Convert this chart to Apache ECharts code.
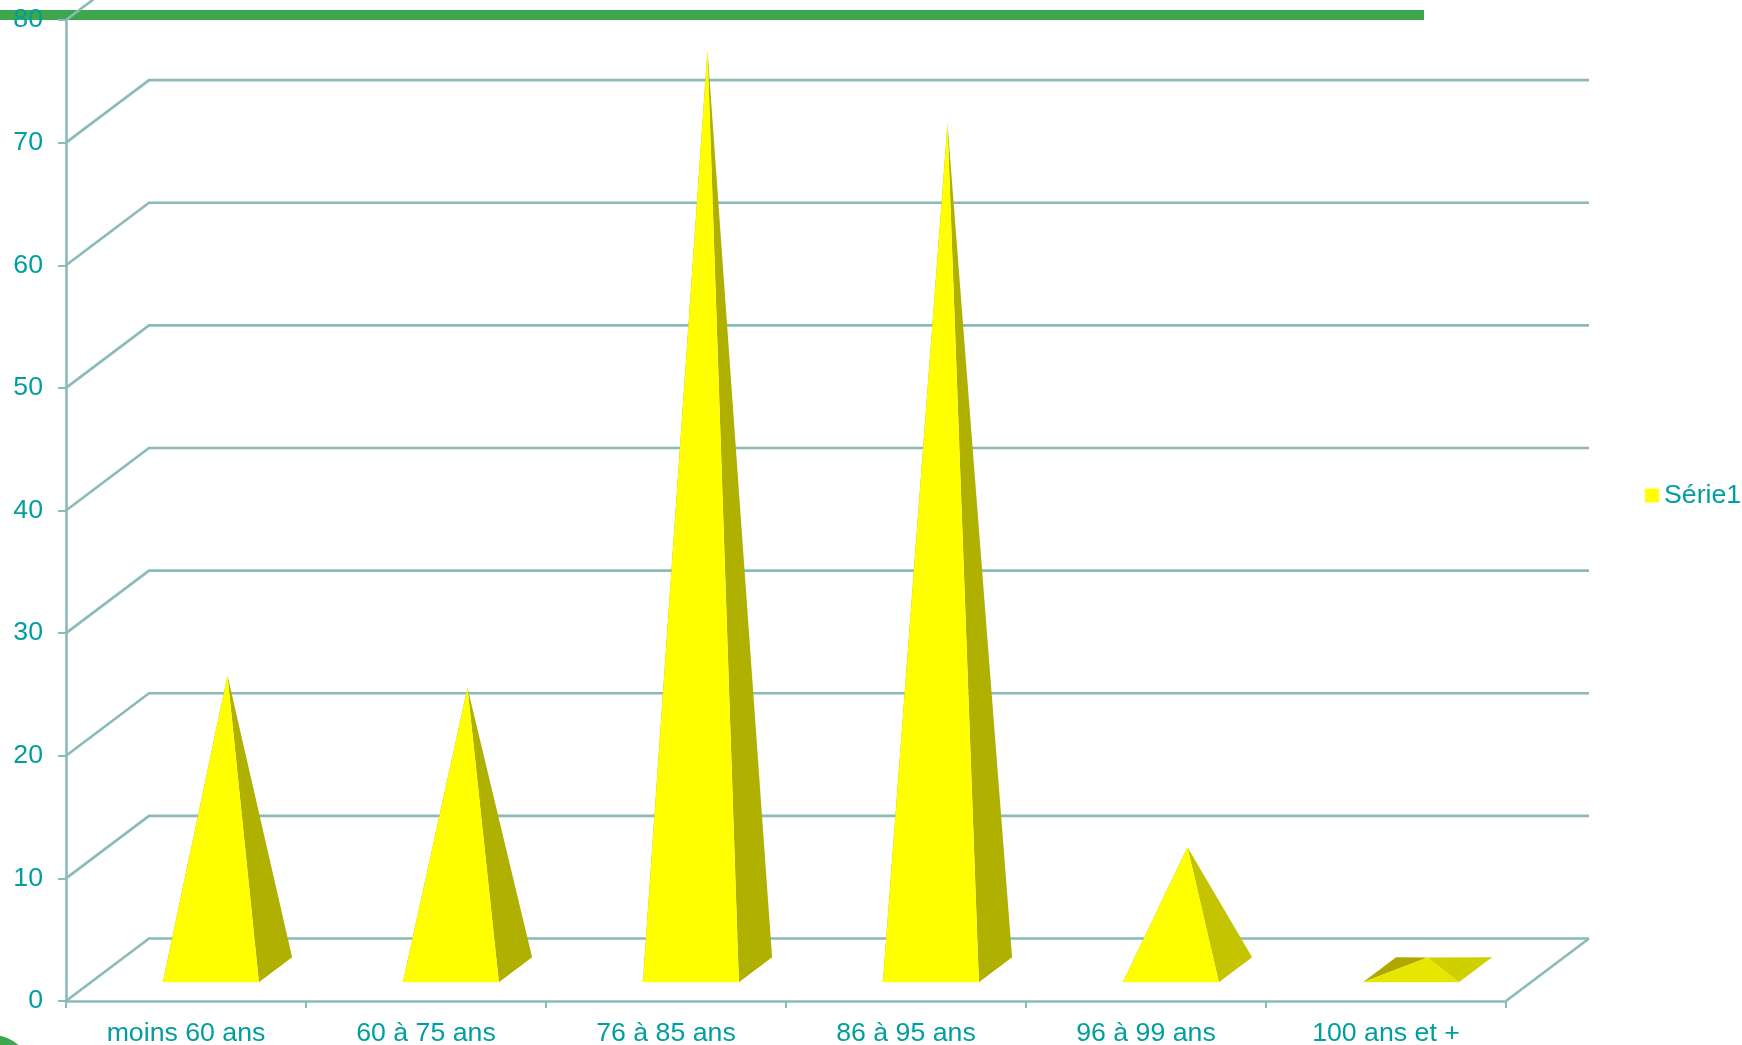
<!DOCTYPE html>
<html>
<head>
<meta charset="utf-8">
<title>Série1</title>
<style>
  html, body { margin: 0; padding: 0; background: #fff; }
  #chart { width: 1742px; height: 1045px; }
</style>
<script src="https://cdn.jsdelivr.net/npm/echarts@6/dist/echarts.min.js"></script>
</head>
<body>
<div id="chart"></div>
<script>
const categories = ["moins 60 ans", "60 à 75 ans", "76 à 85 ans", "86 à 95 ans", "96 à 99 ans", "100 ans et +"];
const serie1 = [24, 23, 75, 69, 10, 1];
const wallTicks = [0, 10, 20, 30, 40, 50, 60, 70, 80];

const lineColor = "#8bbaba";
const textColor = "#009e9e";
const font = "'Liberation Sans', Arial, sans-serif";

// how far the back wall sits from the front plane, in pixels
const depthX = 83;
const depthY = -62.5;

function line(points) {
    return {
        type: "polyline",
        shape: { points: points },
        style: { stroke: lineColor, lineWidth: 2.6, fill: null },
    };
}

function renderWall(params, api) {
    const value = api.value(1);
    const band = api.size([1, 0])[0];
    const p = api.coord([0, value]);
    const left = p[0] - band / 2;
    const right = left + band * categories.length;
    const children = [
        line([[left, p[1]], [left + depthX, p[1] + depthY], [right + depthX, p[1] + depthY]]),
    ];
    if (value === 0) {
        children.push(line([[right, p[1]], [right + depthX, p[1] + depthY]]));
    }
    return { type: "group", children: children };
}

function sideColor(value) {
    if (value < 5) return "#d0d000";
    if (value < 20) return "#c4c400";
    return "#b0b000";
}

function renderPyramid(params, api) {
    const value = api.value(1);
    const band = api.size([1, 0])[0];
    const base = api.coord([api.value(0), 0]);
    const top = api.coord([api.value(0), value]);
    const half = band * 0.2;
    const front = 0.3, back = 0.7, mid = 0.5;

    const fl = [base[0] - half + depthX * front, base[1] + depthY * front];
    const fr = [base[0] + half + depthX * front, base[1] + depthY * front];
    const bl = [base[0] - half + depthX * back, base[1] + depthY * back];
    const br = [base[0] + half + depthX * back, base[1] + depthY * back];
    const apex = [top[0] + depthX * mid, top[1] + depthY * mid];

    const face = (points, color) => ({
        type: "polygon",
        shape: { points: points },
        style: { fill: color },
    });
    return {
        type: "group",
        children: [
            face([fl, bl, apex], "#b0a800"),
            face([fr, br, apex], sideColor(value)),
            face([fl, fr, apex], value < 5 ? "#e6e600" : "#ffff00"),
        ],
    };
}

window.addEventListener("DOMContentLoaded", () => {
    const chart = echarts.init(document.getElementById("chart"), null, { renderer: "canvas" });

    chart.setOption({
        animation: false,
        backgroundColor: "#ffffff",
        textStyle: { fontFamily: font },
        grid: { left: 66, right: 236, top: 20, bottom: 44, outerBoundsMode: "none" },
        legend: {
            data: [{ name: "Série1", icon: "rect", itemStyle: { color: "#ffff00" } }],
            left: 1640,
            top: 477,
            itemWidth: 14,
            itemHeight: 14,
            textStyle: { color: textColor, fontSize: 26.7, fontFamily: font },
        },
        graphic: [
            { type: "rect", z: 0, shape: { x: 0, y: 10, width: 1424, height: 10 }, style: { fill: "#3ea64d" } },
            { type: "circle", z: 0, shape: { cx: -8, cy: 1075, r: 40 }, style: { fill: "#3ea64d" } },
        ],
        xAxis: {
            type: "category",
            data: categories,
            axisLine: { lineStyle: { color: lineColor, width: 2.6 } },
            axisTick: { show: true, alignWithLabel: false, length: 7, lineStyle: { color: lineColor, width: 2 } },
            axisLabel: { color: textColor, fontSize: 26.7, fontFamily: font, margin: 19, interval: 0 },
        },
        yAxis: {
            type: "value",
            min: 0,
            max: 80,
            interval: 10,
            splitLine: { show: false },
            axisLine: { show: true, lineStyle: { color: lineColor, width: 2.6 } },
            axisTick: { show: true, length: 8, lineStyle: { color: lineColor, width: 2 } },
            axisLabel: { color: textColor, fontSize: 26.7, fontFamily: font, margin: 23 },
        },
        series: [
            {
                name: "walls",
                type: "custom",
                silent: true,
                z: 1,
                clip: false,
                renderItem: renderWall,
                data: wallTicks.map((v) => [0, v]),
            },
            {
                name: "Série1",
                type: "custom",
                z: 3,
                clip: false,
                itemStyle: { color: "#ffff00" },
                renderItem: renderPyramid,
                data: serie1.map((v, i) => [i, v]),
            },
        ],
    });
});
</script>
</body>
</html>
